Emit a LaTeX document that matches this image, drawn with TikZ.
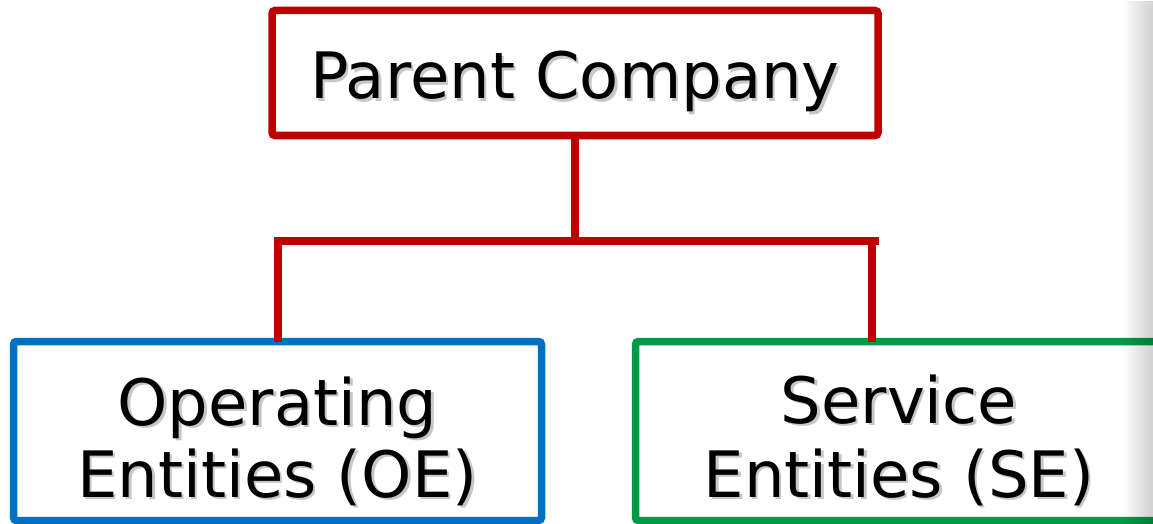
\documentclass[tikz,border=0pt]{standalone}
\usepackage{fontspec}
\setmainfont{DejaVu Sans}
\usetikzlibrary{fadings}
\definecolor{pcred}{RGB}{192,0,0}
\definecolor{oeblue}{RGB}{0,112,192}
\definecolor{segreen}{RGB}{0,153,70}
\tikzfading[name=fadeR, left color=transparent!100, right color=transparent!0]
\newcommand\shtxt[1]{\makebox[0pt][l]{\raisebox{-2.5pt}{\hspace{2.5pt}\textcolor{black!22}{#1}}}#1}
\begin{document}
\begin{tikzpicture}[x=1pt,y=-1pt,
  orgbox/.style={draw, line width=7.5pt, rounded corners=3pt, inner sep=0pt, outer sep=0pt, fill=white},
  conn/.style={draw=pcred, line width=7.5pt},
  lbl/.style={font=\fontsize{64}{72}\selectfont, inner sep=0pt, anchor=base, text=black}]
\useasboundingbox (0,0) rectangle (1153,524);
\fill[white] (0,0) rectangle (1153,524);
% connector points
\coordinate (busL) at (274,241);
\coordinate (busR) at (879,241);
\coordinate (jL) at (278,241);
\coordinate (jR) at (872,241);
% boxes
\node[orgbox, draw=pcred, minimum width=606pt, minimum height=125pt] (parent) at (575,73) {};
\node[orgbox, draw=oeblue, minimum width=528pt, minimum height=179pt] (oe) at (277.5,431) {};
\node[orgbox, draw=segreen, minimum width=527pt, minimum height=179pt] (se) at (899,431) {};
\draw[conn] (parent.south) -- (parent.south |- busL);
\draw[conn] (busL) -- (busR);
\draw[conn] (jL) -- (jL |- oe.north);
\draw[conn] (jR) -- (jR |- se.north);
% labels
\node[lbl] (ptxt) at (575,99) {\shtxt{Parent Company}};
\node[lbl] (oe1) at (277.5,425) {\shtxt{Operating}};
\node[lbl] (oe2) at (277.5,497) {\shtxt{Entities (OE)}};
\node[lbl] (se1) at (899,423) {\shtxt{Service}};
\node[lbl] (se2) at (899,497) {\shtxt{Entities (SE)}};
% right edge shadow
\fill[black, path fading=fadeR, fill opacity=0.18] (1122,0) rectangle (1153,524);
\end{tikzpicture}
\end{document}
